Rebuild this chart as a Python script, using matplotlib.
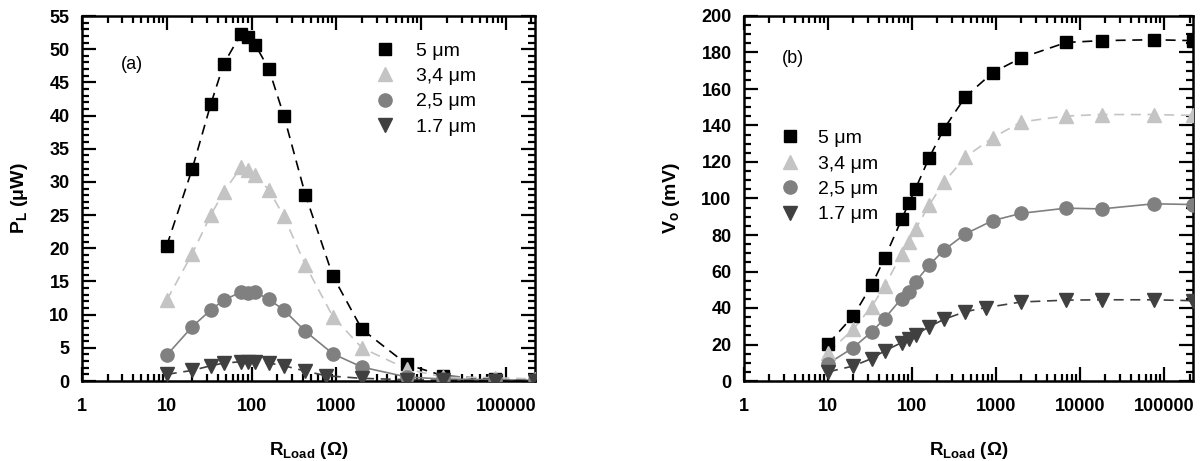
import matplotlib.pyplot as plt
from matplotlib.ticker import LogLocator, MultipleLocator, FixedLocator, FixedFormatter

plt.rcParams["font.family"] = ["Liberation Sans", "DejaVu Sans"]
plt.rcParams["mathtext.fontset"] = "custom"
plt.rcParams["mathtext.rm"] = "Liberation Sans"
plt.rcParams["mathtext.bf"] = "Liberation Sans:bold"
plt.rcParams["mathtext.it"] = "Liberation Sans:italic"

# load resistance (ohm)
r_load = [10, 20, 33, 47, 75, 91, 110, 160, 240, 430, 910, 2000, 6800, 18000, 75000, 220000]
r_load_17 = [10, 20, 33, 47, 75, 91, 110, 160, 240, 430, 750, 2000, 6800, 18000, 75000, 220000]

labels = ["5 \u03bcm", "3,4 \u03bcm", "2,5 \u03bcm", "1.7 \u03bcm"]

# (a) power (uW)
p_5 = [20.4, 32.0, 41.7, 47.8, 52.3, 51.8, 50.7, 47.0, 40.0, 28.1, 15.8, 7.8, 2.5, 0.8, 0.25, 0.1]
p_34 = [12.2, 19.2, 25.0, 28.5, 32.2, 31.8, 31.0, 28.8, 24.8, 17.5, 9.7, 5.0, 1.8, 0.6, 0.5, 0.3]
p_25 = [3.9, 8.2, 10.7, 12.2, 13.4, 13.2, 13.4, 12.3, 10.7, 7.5, 4.1, 2.1, 0.6, 0.3, 0.2, 0.1]
p_17 = [1.0, 1.6, 2.3, 2.7, 2.9, 2.8, 2.8, 2.7, 2.3, 1.5, 0.8, 0.4, 0.2, 0.1, 0.05, 0.03]

# (b) output voltage (mV)
v_5 = [20.3, 35.7, 52.5, 67.2, 88.5, 97.3, 105.4, 122.4, 138.3, 155.7, 169.0, 177.1, 185.5, 186.5, 187.0, 186.5]
v_34 = [15.6, 28.4, 40.8, 51.8, 69.6, 76.0, 83.3, 96.5, 109.0, 122.7, 133.3, 142.0, 145.2, 146.0, 146.0, 145.5]
v_25 = [9.5, 18.3, 26.9, 34.2, 45.2, 49.0, 54.4, 63.5, 71.8, 80.6, 87.9, 91.9, 94.7, 94.3, 97.1, 96.7]
v_17 = [5.0, 8.2, 12.3, 16.5, 21.0, 22.9, 25.3, 29.8, 33.8, 38.0, 40.2, 43.3, 44.3, 44.5, 44.5, 44.0]

styles = [
    dict(marker="s", color="black", ls="--", ms=8.6),
    dict(marker="^", color="#c4c4c4", ls="--", ms=10.5),
    dict(marker="o", color="#808080", ls="-", ms=9.5),
    dict(marker="v", color="#404040", ls="--", ms=10.5),
]

fig = plt.figure(figsize=(12.04, 4.61), dpi=100)
ax_a = fig.add_axes([82 / 1204, 80 / 461, 453 / 1204, 365 / 461])
ax_b = fig.add_axes([744 / 1204, 80 / 461, 449 / 1204, 365 / 461])


def style_axes(ax, ymax, ymajor, yminor):
    ax.set_xscale("log")
    ax.set_xlim(1, 2.2e5)
    ax.set_ylim(0, ymax)
    ax.xaxis.set_major_locator(FixedLocator([1, 10, 100, 1000, 10000, 100000]))
    ax.xaxis.set_major_formatter(
        FixedFormatter(["1", "10", "100", "1000", "10000", "100000"])
    )
    ax.xaxis.set_minor_locator(LogLocator(base=10, subs=range(2, 10), numticks=20))
    ax.yaxis.set_major_locator(MultipleLocator(ymajor))
    ax.yaxis.set_minor_locator(MultipleLocator(yminor))
    ax.tick_params(which="both", direction="in", top=True, right=True, width=1.6)
    ax.tick_params(which="major", length=10, labelsize=13)
    ax.tick_params(axis="x", which="major", pad=12)
    ax.tick_params(axis="y", which="major", pad=9)
    ax.tick_params(which="minor", length=5)
    for lab in ax.get_xticklabels() + ax.get_yticklabels():
        lab.set_fontweight("bold")
    for sp in ax.spines.values():
        sp.set_linewidth(1.8)
    ax.set_xlabel("$\\mathbf{R_{Load}}$ (\u03a9)", fontsize=13.5,
                  fontweight="bold", labelpad=18)


series_a = [(r_load, p_5), (r_load, p_34), (r_load, p_25), (r_load_17, p_17)]
series_b = [(r_load, v_5), (r_load, v_34), (r_load, v_25), (r_load_17, v_17)]

for ax, series in [(ax_a, series_a), (ax_b, series_b)]:
    for (xs, ys), st, lab in zip(series, styles, labels):
        ax.plot(xs, ys, linestyle=st["ls"], color=st["color"], lw=1.2,
                dashes=(6, 4) if st["ls"] == "--" else (None, None), zorder=2)
        ax.plot(xs, ys, linestyle="none", marker=st["marker"], color=st["color"],
                ms=st["ms"], mec=st["color"], label=lab, zorder=3)

style_axes(ax_a, 55, 5, 1)
style_axes(ax_b, 200, 20, 5)

ax_a.set_ylabel("$\\mathbf{P_L}$ (\u03bcW)", fontsize=14, fontweight="bold", labelpad=14)
ax_b.set_ylabel("$\\mathbf{V_o}$ (mV)", fontsize=14, fontweight="bold", labelpad=14)

ax_a.text(0.085, 0.855, "(a)", transform=ax_a.transAxes, fontsize=13)
ax_b.text(0.085, 0.87, "(b)", transform=ax_b.transAxes, fontsize=13)

leg_a = ax_a.legend(loc="upper left", bbox_to_anchor=(0.625, 0.95), frameon=False,
                    fontsize=14, handletextpad=1.0, labelspacing=0.4,
                    handlelength=1.2, borderaxespad=0)
leg_b = ax_b.legend(loc="upper left", bbox_to_anchor=(0.06, 0.71), frameon=False,
                    fontsize=14, handletextpad=0.8, labelspacing=0.4,
                    handlelength=1.2, borderaxespad=0)

fig.savefig("out.png", dpi=100)
